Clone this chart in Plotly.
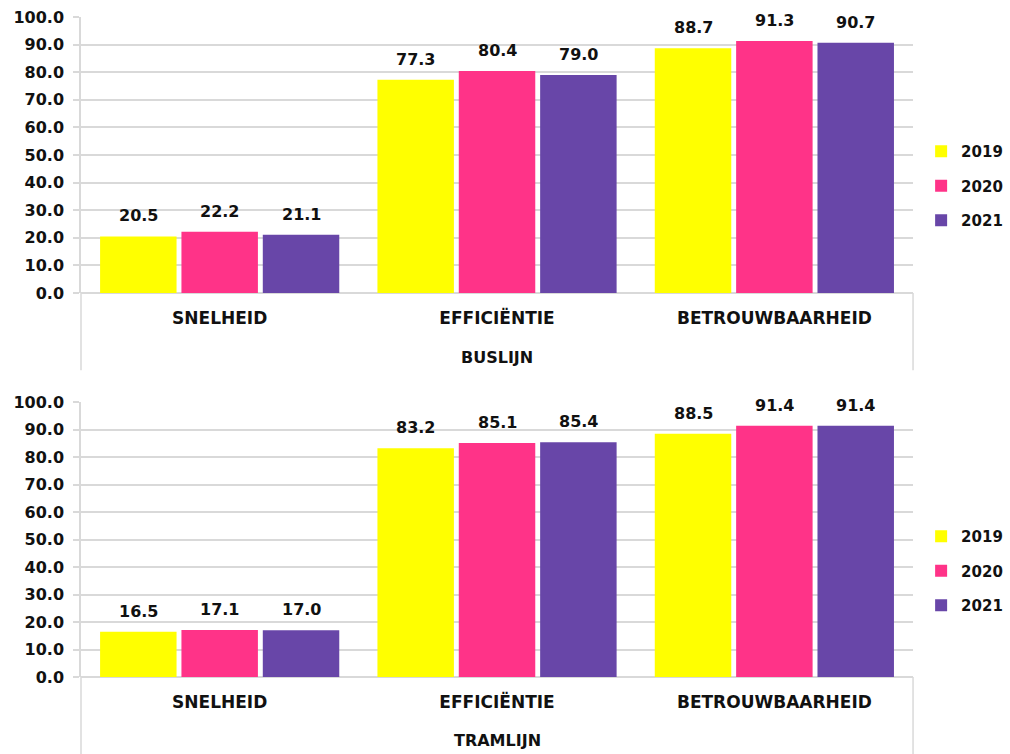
import plotly.graph_objects as go

categories = ["SNELHEID", "EFFICIËNTIE", "BETROUWBAARHEID"]
years = ["2019", "2020", "2021"]
colors = ["#FFFF00", "#FF3388", "#6846A8"]

bus_2019 = [20.5, 77.3, 88.7]
bus_2020 = [22.2, 80.4, 91.3]
bus_2021 = [21.1, 79.0, 90.7]

tram_2019 = [16.5, 83.2, 88.5]
tram_2020 = [17.1, 85.1, 91.4]
tram_2021 = [17.0, 85.4, 91.4]

panels = [
    ("BUSLIJN", [bus_2019, bus_2020, bus_2021], "x", "y", "legend"),
    ("TRAMLIJN", [tram_2019, tram_2020, tram_2021], "x2", "y2", "legend2"),
]

FONT = "DejaVu Sans"
TXT = "#111111"
GRID = "#D9D9D9"
BARGAP = 0.12
GROUPGAP = 0.06

xpos = list(range(len(categories)))

fig = go.Figure()
annotations = []
shapes = []

for p, (group_label, series, xa, ya, leg) in enumerate(panels):
    for j, (yr, vals) in enumerate(zip(years, series)):
        fig.add_trace(go.Bar(
            x=xpos, y=vals, name=yr, marker=dict(color=colors[j], line=dict(width=0)),
            xaxis=xa, yaxis=ya, legend=leg, legendgroup=f"{leg}_{yr}",
            hoverinfo="y",
        ))
        slot = (1 - BARGAP) / len(years)
        for i, v in enumerate(vals):
            annotations.append(dict(
                x=xpos[i] + (j - (len(years) - 1) / 2) * slot, y=v,
                xref=xa, yref=ya, text=f"<b>{v:.1f}</b>", showarrow=False,
                yanchor="bottom", yshift=9,
                font=dict(family=FONT, size=16, color=TXT),
            ))
    xref_dom = ("x" if p == 0 else "x2") + " domain"
    yref_dom = ("y" if p == 0 else "y2") + " domain"
    annotations.append(dict(
        x=0.5, y=-0.232, xref=xref_dom, yref=yref_dom, text="<b>" + group_label + "</b>",
        showarrow=False, yanchor="middle",
        font=dict(family=FONT, size=16, color=TXT),
    ))
    # category box side lines below the axis
    for xv in (0, 1):
        shapes.append(dict(
            type="line", xref=xref_dom, yref=yref_dom, x0=xv, x1=xv, y0=0, y1=-0.28,
            line=dict(color=GRID, width=1.5),
        ))

x_dom = [0.0802, 0.904]
y_top = [1 - 293 / 754, 1 - 17 / 754]
y_bot = [1 - 677 / 754, 1 - 402 / 754]

xaxis_common = dict(
    domain=x_dom, tickmode="array", tickvals=xpos,
    ticktext=["<b>" + c + "</b>" for c in categories],
    tickfont=dict(family=FONT, size=17, color=TXT),
    showline=False, showgrid=False, zeroline=False, ticks="",
    ticklabelstandoff=13, range=[-0.5, 2.5], fixedrange=True, automargin=False,
)
yaxis_common = dict(
    range=[0, 100], tickmode="linear", tick0=0, dtick=10, tickformat=".1f",
    tickfont=dict(family=FONT, size=16, color=TXT, weight="bold"),
    showgrid=True, gridcolor=GRID, gridwidth=1.5,
    showline=True, linecolor=GRID, linewidth=1.5,
    zeroline=True, zerolinecolor=GRID, zerolinewidth=1.5,
    ticks="outside", ticklen=6, tickcolor=GRID, tickwidth=1.5,
    ticklabelstandoff=6, fixedrange=True, automargin=False,
)

legend_common = dict(
    font=dict(family=FONT, size=15, color=TXT, weight="bold"),
    bgcolor="rgba(0,0,0,0)", tracegroupgap=12, itemwidth=30,
    xanchor="left", yanchor="middle", x=0.912,
    traceorder="grouped",
)

fig.update_layout(
    width=1010, height=754,
    margin=dict(l=0, r=0, t=0, b=0, autoexpand=False),
    paper_bgcolor="white", plot_bgcolor="white",
    barmode="group", bargap=BARGAP, bargroupgap=GROUPGAP,
    xaxis=dict(anchor="y", **xaxis_common),
    xaxis2=dict(anchor="y2", **xaxis_common),
    yaxis=dict(anchor="x", domain=y_top, **yaxis_common),
    yaxis2=dict(anchor="x2", domain=y_bot, **yaxis_common),
    legend=dict(y=1 - 186 / 754, **legend_common),
    legend2=dict(y=1 - 571 / 754, **legend_common),
    annotations=annotations,
    shapes=shapes,
    showlegend=True,
)

fig.write_html("out.html")
